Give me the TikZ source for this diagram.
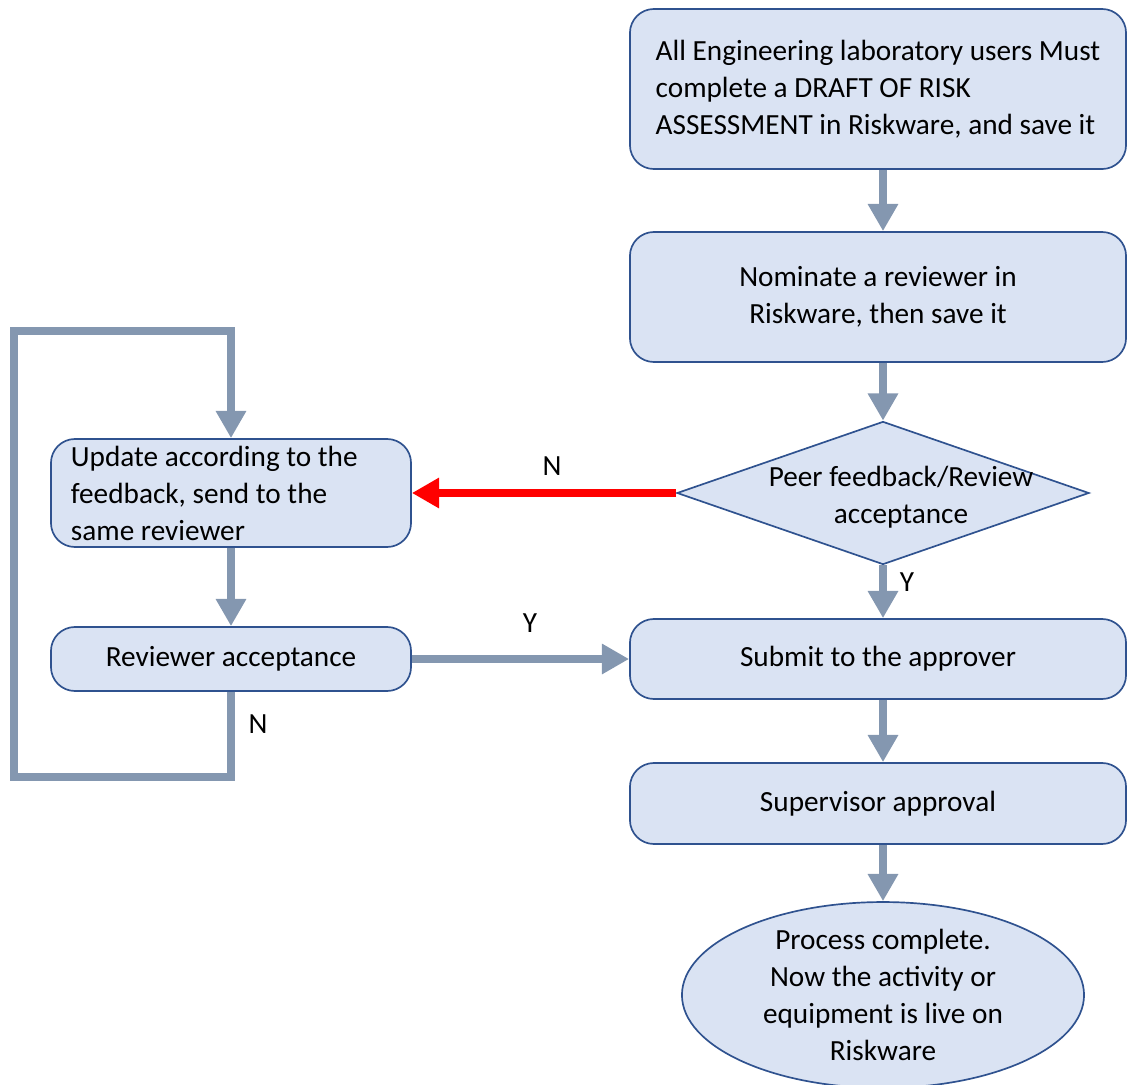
\documentclass[tikz,border=0pt]{standalone}
\usepackage{fontspec}
\setmainfont{Carlito}
\definecolor{boxfill}{HTML}{DAE3F3}
\definecolor{boxline}{HTML}{2F528F}
\definecolor{flowgrey}{HTML}{8497B0}
\usetikzlibrary{arrows.meta, shapes.geometric, positioning, calc}

\begin{document}
\begin{tikzpicture}[x=0.025cm, y=-0.025cm,
	txt/.style={font=\fontsize{20.8pt}{26.3pt}\selectfont},
	stage/.style={txt, draw=boxline, fill=boxfill, line width=1.2pt, rounded corners=0.6cm, align=center, inner sep=0pt, minimum width=12.4cm},
	decision/.style={draw=boxline, fill=boxfill, line width=1.2pt, diamond, inner sep=0pt, minimum width=10.3cm, minimum height=3.575cm},
	finish/.style={txt, draw=boxline, fill=boxfill, line width=1.2pt, ellipse, align=center, inner sep=0pt, minimum width=10.05cm, minimum height=4.5cm},
	arr/.style={-{Triangle[length=0.68cm, width=0.72cm]}, line width=0.2cm, flowgrey, line join=miter},
	noarr/.style={-{Triangle[length=0.68cm, width=0.72cm]}, line width=0.2cm, red}]
	\useasboundingbox (0,0) rectangle (1127,1085);
	\node[stage, align=left, minimum height=4cm] (draft) at (878,89) {All Engineering laboratory users Must\\complete a DRAFT OF RISK\\ASSESSMENT in Riskware, and save it};
	\node[stage, minimum height=3.25cm] (nominate) at (878,297) {Nominate a reviewer in\\Riskware, then save it};
	\node[decision, label={[txt, align=center, xshift=0.45cm, yshift=-0.1cm]center:Peer feedback/Review\\acceptance}] (peer) at (883,493) {};
	\node[stage, align=flush left, text width=8cm, minimum width=9cm, minimum height=2.7cm] (update) at (231,493) {Update according to the\\feedback, send to the\\same reviewer};
	\node[stage, minimum width=9cm, minimum height=1.6cm] (revacc) at (231,659) {Reviewer acceptance};
	\node[stage, minimum height=2cm] (submit) at (878,659) {Submit to the approver};
	\node[stage, minimum height=2.025cm] (superv) at (878,803.5) {Supervisor\ approval};
	\node[finish] (done) at (883,995) {Process complete.\\Now the activity or\\equipment is live on\\Riskware};
	\coordinate (loopbl) at (14,777);
	\coordinate (looptl) at (14,331);
	\node[txt] (nno) at (552,466) {N};
	\node[txt] (nyes) at (907,582) {Y};
	\node[txt] (ryes) at (530,623) {Y};
	\node[txt] (rno) at (258,724) {N};
	\draw[arr] (draft.south -| peer.north) -- (nominate.north -| peer.north);
	\draw[arr] (nominate.south -| peer.north) -- (peer.north);
	\draw[noarr] (peer.west) -- (update.east);
	\draw[arr] (peer.south) -- (submit.north -| peer.south);
	\draw[arr] (update.south) -- (revacc.north);
	\draw[arr] (revacc.east) -- (submit.west);
	\draw[arr] (revacc.south) |- (loopbl) -- (looptl) -| (update.north);
	\draw[arr] (submit.south -| peer.south) -- (superv.north -| peer.south);
	\draw[arr] (superv.south -| done.north) -- (done.north);
\end{tikzpicture}
\end{document}
